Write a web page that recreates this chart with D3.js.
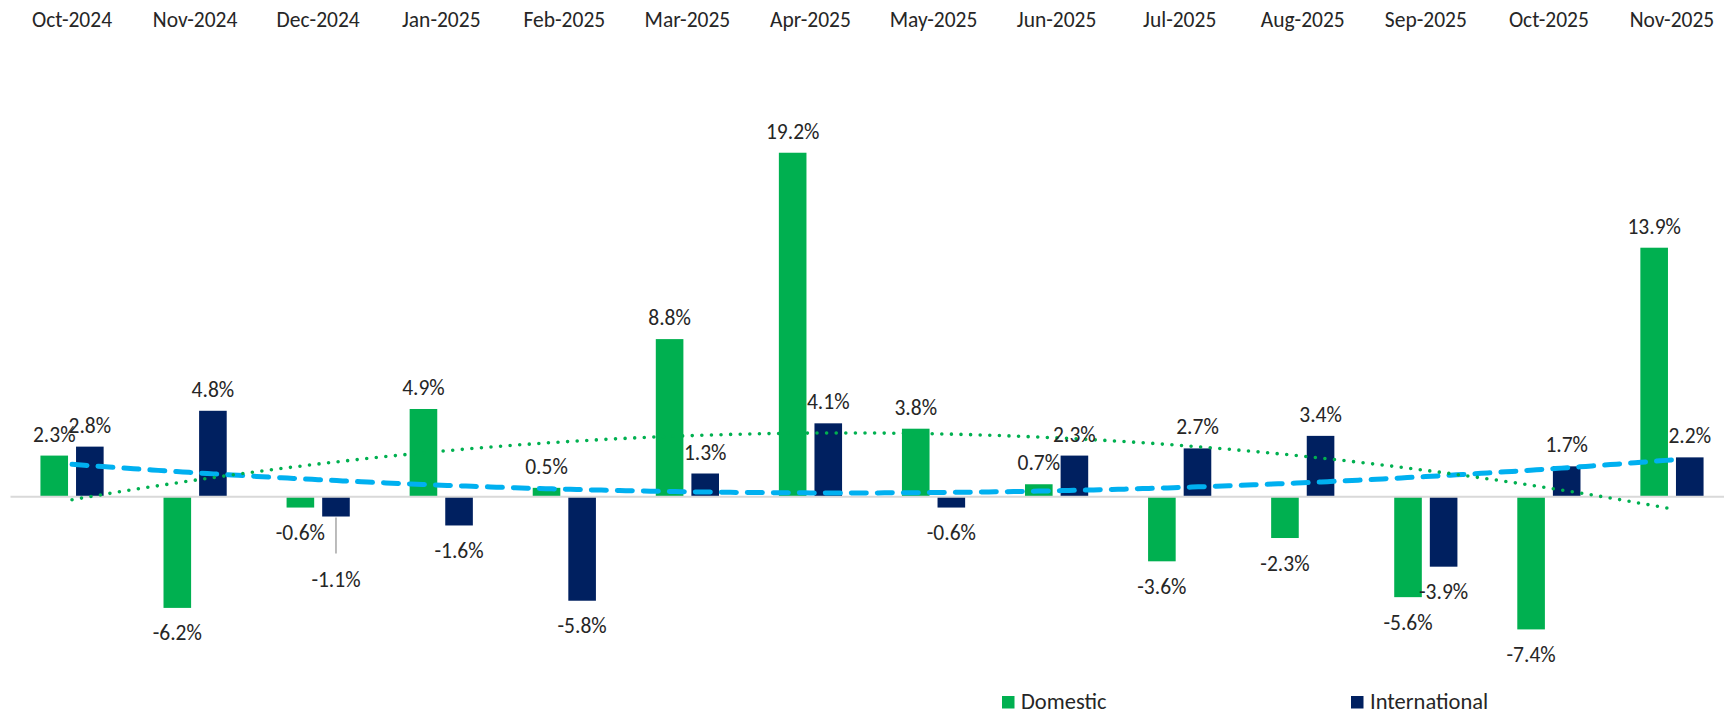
<!DOCTYPE html>
<html>
<head>
<meta charset="utf-8">
<script src="https://cdn.jsdelivr.net/npm/d3@7/dist/d3.min.js"></script>
<style>
  html, body { margin: 0; padding: 0; background: #ffffff; }
  svg { display: block; }
  text { font-family: Carlito, Calibri, Lato, "Open Sans", sans-serif; fill: #262626; }
</style>
</head>
<body>
<svg id="chart" width="1724" height="715"></svg>
<script>
// ---- data ----
const months = ["Oct-2024","Nov-2024","Dec-2024","Jan-2025","Feb-2025","Mar-2025","Apr-2025",
                "May-2025","Jun-2025","Jul-2025","Aug-2025","Sep-2025","Oct-2025","Nov-2025"];
const domestic = [2.3, -6.2, -0.6, 4.9, 0.5, 8.8, 19.2, 3.8, 0.7, -3.6, -2.3, -5.6, -7.4, 13.9];
const international = [2.8, 4.8, -1.1, -1.6, -5.8, 1.3, 4.1, -0.6, 2.3, 2.7, 3.4, -3.9, 1.7, 2.2];
const seriesNames = ["Domestic", "International"];
const yDomain = [-10, 20];

// ---- style ----
const W = 1724, H = 715;
const colors = { Domestic: "#00b050", International: "#002060" };
const trendColors = { Domestic: "#00b050", International: "#00b0f0" };
const fontSize = 21.5;

const svg = d3.select("#chart");
svg.append("rect").attr("width", W).attr("height", H).attr("fill", "#ffffff");

const x = d3.scaleBand().domain(months).range([10.5, 1733.5]).paddingInner(0).paddingOuter(0);
const y = d3.scaleLinear().domain(yDomain).range([676, 138.4]);
const barW = 27.6, gap = 8;

const data = months.map((m, i) => ({ month: m, Domestic: domestic[i], International: international[i] }));
const center = m => x(m) + x.bandwidth() / 2;
const barX = (m, s) => s === "Domestic" ? center(m) - gap / 2 - barW : center(m) + gap / 2;

// month labels on top (category axis)
const topAxis = d3.axisTop(x).tickSize(0).tickPadding(0);
const gAx = svg.append("g").attr("transform", "translate(0,26.5)").call(topAxis);
gAx.select(".domain").remove();
gAx.selectAll("text").attr("font-size", fontSize).attr("fill", "#262626")
   .style("font-family", "Carlito, Calibri, Lato, sans-serif").attr("dy", 0).attr("y", 0);

// bars
seriesNames.forEach(s => {
  svg.append("g").selectAll("rect").data(data).join("rect")
    .attr("x", d => barX(d.month, s))
    .attr("width", barW)
    .attr("y", d => Math.min(y(d[s]), y(0)))
    .attr("height", d => Math.abs(y(d[s]) - y(0)))
    .attr("fill", colors[s]);
});

// zero line
svg.append("line").attr("x1", x.range()[0]).attr("x2", x.range()[1])
  .attr("y1", y(0)).attr("y2", y(0)).attr("stroke", "#d9d9d9").attr("stroke-width", 2);

// polynomial (order 2) trendlines, least squares on the series values
function polyFit2(vals) {
  let s = [0,0,0,0,0], t = [0,0,0];
  vals.forEach((v, i) => {
    const xi = i + 1;
    for (let k = 0; k < 5; k++) s[k] += Math.pow(xi, k);
    for (let k = 0; k < 3; k++) t[k] += v * Math.pow(xi, k);
  });
  const M = [[s[0], s[1], s[2], t[0]], [s[1], s[2], s[3], t[1]], [s[2], s[3], s[4], t[2]]];
  for (let c = 0; c < 3; c++) {
    for (let r = c + 1; r < 3; r++) {
      const f = M[r][c] / M[c][c];
      for (let k = c; k < 4; k++) M[r][k] -= f * M[c][k];
    }
  }
  const coef = [0,0,0];
  for (let r = 2; r >= 0; r--) {
    let sum = M[r][3];
    for (let k = r + 1; k < 3; k++) sum -= M[r][k] * coef[k];
    coef[r] = sum / M[r][r];
  }
  return xi => coef[0] + coef[1] * xi + coef[2] * xi * xi;
}
const xIdx = d3.scaleLinear().domain([1, months.length]).range([center(months[0]), center(months[months.length - 1])]);
const trendLine = d3.line().x(d => xIdx(d[0])).y(d => y(d[1])).curve(d3.curveLinear);
const trendStyles = {
  Domestic: { width: 3.6, dash: "0 9.6", cap: "round" },
  International: { width: 5, dash: "15 11", cap: "round" }
};
["International", "Domestic"].forEach(s => {
  const f = polyFit2(s === "Domestic" ? domestic : international);
  const pts = d3.range(1, months.length + 0.0001, 0.05).map(v => [v, f(v)]);
  svg.append("path").datum(pts).attr("d", trendLine)
    .attr("fill", "none").attr("stroke", trendColors[s])
    .attr("stroke-width", trendStyles[s].width)
    .attr("stroke-dasharray", trendStyles[s].dash)
    .attr("stroke-linecap", trendStyles[s].cap);
});

// data labels
const fmt = v => v.toFixed(1) + "%";
const moved = { series: "International", month: "Dec-2024", dy: 38 };
const gl = svg.append("g");
seriesNames.forEach(s => {
  data.forEach(d => {
    const v = d[s];
    const cx = barX(d.month, s) + barW / 2;
    let ty = v >= 0 ? y(v) - 14 : y(v) + 32.5;
    if (s === moved.series && d.month === moved.month) {
      gl.append("line").attr("x1", cx).attr("x2", cx)
        .attr("y1", y(v) + 1).attr("y2", y(v) + 37)
        .attr("stroke", "#a6a6a6").attr("stroke-width", 1.5);
      ty += moved.dy;
    }
    gl.append("text").attr("x", cx).attr("y", ty).attr("text-anchor", "middle")
      .attr("font-size", fontSize).text(fmt(v));
  });
});

// legend
const legendX = { Domestic: 1002, International: 1351 };
seriesNames.forEach(s => {
  const g = svg.append("g").attr("transform", `translate(${legendX[s]},696)`);
  g.append("rect").attr("width", 12.5).attr("height", 12.5).attr("fill", colors[s]);
  g.append("text").attr("x", 19).attr("y", 13).attr("font-size", fontSize + 1).text(s);
});
</script>
</body>
</html>
